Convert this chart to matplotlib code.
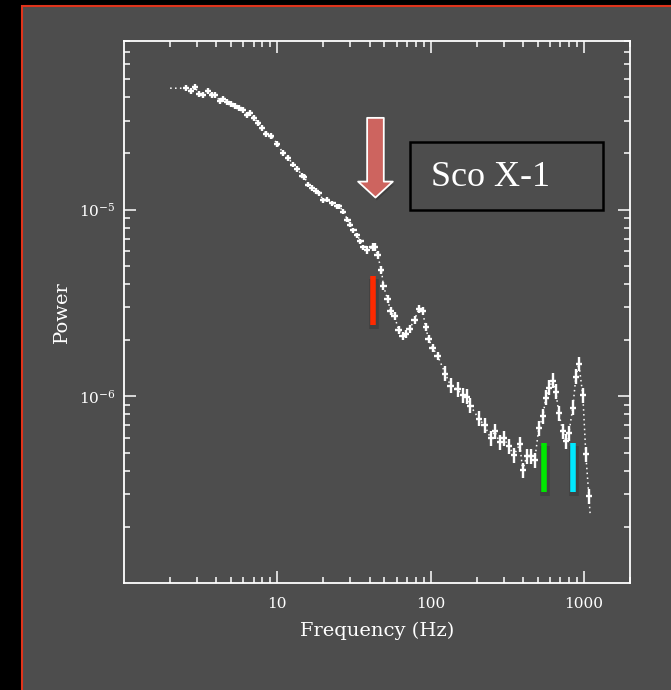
import numpy as np
import matplotlib.pyplot as plt
from matplotlib.patches import Rectangle

plt.rcParams['font.family'] = ['DejaVu Serif']
plt.rcParams['mathtext.fontset'] = 'dejavuserif'

# Power density spectrum, frequency in Hz
freq = [2.54, 2.74, 2.91, 3.09, 3.28, 3.54, 3.76, 3.94, 4.24, 4.44,
        4.71, 5.00, 5.31, 5.64, 6.00, 6.37, 6.66, 7.08, 7.51, 7.98,
        8.48, 9.14, 10.0, 10.9, 11.8, 12.7, 13.5, 14.6, 15.0, 15.9,
        16.9, 18.0, 18.8, 20.0, 21.2, 22.9, 24.7, 25.4, 27.0, 28.7,
        30.0, 31.4, 33.3, 34.9, 36.5, 38.7, 41.8, 43.1, 45.1, 47.8,
        49.3, 52.4, 54.8, 58.2, 61.8, 65.6, 68.7, 72.9, 78.6, 83.5,
        88.7, 92.8, 97.0, 103, 111, 125, 135, 150, 162, 172,
        182, 206, 225, 247, 262, 282, 300, 324, 349, 382,
        399, 424, 450, 478, 508, 540, 565, 591, 627, 656,
        687, 729, 763, 798, 847, 887, 928, 985, 1030, 1078]
power = [4.47e-5, 4.31e-5, 4.52e-5, 4.15e-5, 4.10e-5, 4.31e-5, 4.10e-5, 4.10e-5, 3.81e-5, 3.90e-5,
         3.76e-5, 3.67e-5, 3.58e-5, 3.49e-5, 3.41e-5, 3.21e-5, 3.29e-5, 3.09e-5, 2.91e-5, 2.74e-5,
         2.54e-5, 2.48e-5, 2.25e-5, 2.01e-5, 1.89e-5, 1.74e-5, 1.65e-5, 1.52e-5, 1.50e-5, 1.36e-5,
         1.31e-5, 1.26e-5, 1.22e-5, 1.12e-5, 1.13e-5, 1.08e-5, 1.04e-5, 1.04e-5, 9.76e-6, 8.85e-6,
         8.32e-6, 7.73e-6, 7.27e-6, 6.76e-6, 6.28e-6, 6.05e-6, 6.28e-6, 6.28e-6, 5.69e-6, 4.73e-6,
         3.89e-6, 3.32e-6, 2.86e-6, 2.69e-6, 2.27e-6, 2.11e-6, 2.16e-6, 2.30e-6, 2.57e-6, 2.93e-6,
         2.86e-6, 2.35e-6, 2.03e-6, 1.82e-6, 1.65e-6, 1.32e-6, 1.14e-6, 1.09e-6, 1.01e-6, 9.96e-7,
         8.91e-7, 7.60e-7, 6.98e-7, 5.95e-7, 6.49e-7, 5.67e-7, 5.95e-7, 5.40e-7, 4.83e-7, 5.53e-7,
         4.02e-7, 4.78e-7, 4.78e-7, 4.54e-7, 6.73e-7, 7.80e-7, 9.84e-7, 1.11e-6, 1.21e-6, 1.06e-6,
         8.09e-7, 6.49e-7, 5.74e-7, 6.33e-7, 8.71e-7, 1.27e-6, 1.49e-6, 1.01e-6, 4.89e-7, 2.92e-7]

# half widths of the error crosses, in decades
err_dex = [0.015] * 45 + [0.022] * 20 + [0.04] * 35
xerr_dex = 0.02

# dotted curve through the spectrum, running a little past the data
line_freq = [2.0] + freq + [1100]
line_power = [4.47e-5] + power + [2.31e-7]

# QPO markers: (frequency, low, high)
markers = [(42.4, 2.41e-6, 4.40e-6, '#ff2a00'),
           (548, 3.07e-7, 5.6e-7, '#00e600'),
           (847, 3.07e-7, 5.6e-7, '#00e8ff')]

f = np.array(freq)
p = np.array(power)
d = np.array(err_dex)
yerr = [p * (1 - 10**-d), p * (10**d - 1)]
xerr = [f * (1 - 10**-xerr_dex), f * (10**xerr_dex - 1)]

gray = '#4d4d4d'
fig = plt.figure(figsize=(6.71, 6.90), dpi=100, facecolor='black')

# slide panel with red border, kept behind the axes
fig.add_artist(Rectangle((22 / 671, -0.05), 1.1, 1 - 6 / 690 + 0.05,
                         transform=fig.transFigure, facecolor=gray,
                         edgecolor='#e0341c', linewidth=1.5, zorder=-10))

ax = fig.add_axes([124 / 671, 1 - 583 / 690, 506 / 671, 542 / 690])
ax.set_facecolor('none')

ax.plot(line_freq, line_power, color='white', linestyle=(0, (1, 2.2)), linewidth=1.1)
ax.errorbar(f, p, xerr=xerr, yerr=yerr, fmt='none', ecolor='white',
            elinewidth=1.7, capsize=0)

for fx, lo, hi, c in markers:
    ax.plot([fx * 1.015, fx * 1.015], [lo * 0.95, hi * 0.97], color='black',
            alpha=0.15, linewidth=7, solid_capstyle='butt')
    ax.plot([fx, fx], [lo, hi], color=c, linewidth=4, solid_capstyle='butt')

ax.set_xscale('log')
ax.set_yscale('log')
ax.set_xlim(1, 2000)
ax.set_ylim(1e-7, 8e-5)

for s in ax.spines.values():
    s.set_color('white')
    s.set_linewidth(1.3)

ax.tick_params(which='both', direction='in', top=True, right=True,
               colors='white', labelsize=11, width=1.1)
ax.tick_params(which='major', length=8.5)
ax.tick_params(which='minor', length=4.5)
ax.tick_params(axis='x', which='major', pad=10)
ax.tick_params(axis='y', which='major', pad=6)

ax.set_xticks([10, 100, 1000])
ax.set_xticklabels(['10', '100', '1000'])
ax.set_yticks([1e-6, 1e-5])
ax.set_yticklabels([r'$10^{-6}$', r'$10^{-5}$'])

ax.set_xlabel('Frequency (Hz)', color='white', fontsize=14, labelpad=8)
ax.set_ylabel('Power', color='white', fontsize=14, labelpad=6)

# arrow pointing at the low frequency QPO
arrow = dict(arrowstyle='simple,head_width=1.0,head_length=0.46,tail_width=0.48',
             facecolor='#cd645f', edgecolor='white', linewidth=1.3,
             shrinkA=0, shrinkB=0, mutation_scale=25)
shadow = dict(arrow, facecolor='black', edgecolor='none', alpha=0.18)
ax.annotate('', xy=(44.6, 1.12e-5), xytext=(44.6, 3.0e-5), arrowprops=shadow)
ax.annotate('', xy=(43.7, 1.16e-5), xytext=(43.7, 3.1e-5), arrowprops=arrow)

# source label box
fig.add_artist(Rectangle((410 / 671, 1 - 210 / 690), 193 / 671, 68 / 690,
                         transform=fig.transFigure, facecolor='none',
                         edgecolor='black', linewidth=1.8))
fig.text(431 / 671, 1 - 177 / 690, 'Sco X-1', family='Liberation Serif',
         fontsize=26, color='white', va='center', ha='left')

plt.savefig('out.png', dpi=100, facecolor='black')
